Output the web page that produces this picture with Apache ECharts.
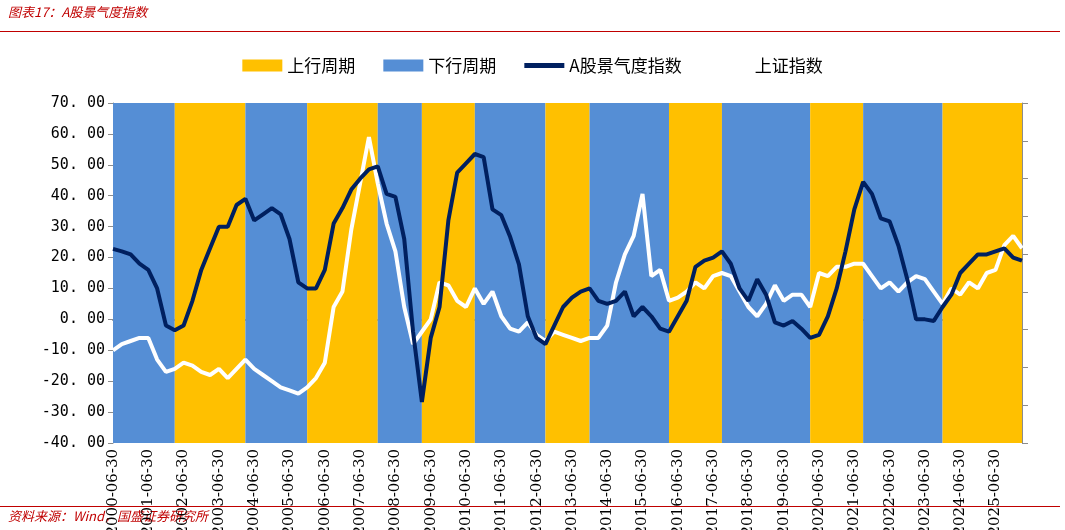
<!DOCTYPE html>
<html><head><meta charset="utf-8">
<script src="https://cdn.jsdelivr.net/npm/echarts@6/dist/echarts.min.js"></script>
<style>html,body{margin:0;background:#fff}#chart{width:1065px;height:530px}</style>
</head><body><div id="chart"></div>
<script>
// quarterly dates from 2000-06-30 to 2026-03-31
const dates = [];
for (let y = 2000; y <= 2026; y++) {
  for (const md of ["03-31", "06-30", "09-30", "12-31"]) {
    const d = `${y}-${md}`;
    if (d >= "2000-06-30" && d <= "2026-03-31") dates.push(d);
  }
}

const sentiment = [
  22.8, 22, 21, 18, 16, 10, -2, -3.5, -2, 6, 16, 23, 30, 30, 37, 39, 32, 34, 36, 34,
  26, 12, 10, 10, 16, 31, 36, 42, 45.5, 48.5, 49.5, 40.6, 39.6, 26, -4, -26.7, -6, 4, 32, 47.5,
  50.5, 53.5, 52.5, 35.6, 33.7, 26.7, 17.8, 1, -6, -8, -2, 4, 7, 9, 10, 6, 5, 6, 9, 1,
  4, 1, -3, -4, 1, 6, 17, 19, 20, 22, 18, 10, 6, 13, 8, -1, -2, -0.5, -3, -6,
  -5, 1, 10, 22, 35.6, 44.5, 40.6, 32.7, 31.7, 23.8, 13, 0, 0, -0.5, 4, 8, 15, 18, 21, 21,
  22, 23, 20, 19
];

const shIndex = [
  -10, -8, -7, -6, -6, -13, -17, -16, -14, -15, -17, -18, -16, -19, -16, -13, -16, -18, -20, -22,
  -23, -24, -22, -19, -14, 4, 9, 29, 44, 59, 44, 31, 22, 4, -8, -4, 0, 12, 11, 6,
  4, 10, 5, 9, 1, -3, -4, -1, -5, -7, -4, -5, -6, -7, -6, -6, -2, 12, 21, 27,
  40.6, 14, 16, 6, 7, 9, 12, 10, 14, 15, 14, 9, 4, 1, 5, 11, 6, 8, 8, 4,
  15, 14, 17, 17, 18, 18, 14, 10, 12, 9, 12, 14, 13, 9, 5, 10, 8, 12, 10, 15,
  16, 24, 27, 23
];

// cycle bands as [startIndex, endIndex, type]
const bands = [
  [0, 7, "down"], [7, 15, "up"], [15, 22, "down"], [22, 30, "up"], [30, 35, "down"],
  [35, 41, "up"], [41, 49, "down"], [49, 54, "up"], [54, 63, "down"], [63, 69, "up"],
  [69, 79, "down"], [79, 85, "up"], [85, 94, "down"], [94, 103, "up"]
];

const UP = "#FFC000";
const DOWN = "#558ED5";
const NAVY = "#002060";
const FONT = "Noto Sans CJK SC";
const LINE_ICON = "path://M0,0 L40,0 L40,5 L0,5 Z";

const chart = echarts.init(document.getElementById("chart"));
chart.setOption({
  animation: false,
  textStyle: { fontFamily: FONT },
  grid: { left: 113, right: 43, top: 103, bottom: 87, outerBoundsMode: "none", containLabel: false },
  legend: {
    top: 52, left: "center", itemGap: 28, itemWidth: 40, itemHeight: 12,
    textStyle: { fontSize: 17, color: "#000", fontFamily: FONT },
    data: [
      { name: "上行周期", icon: "rect" },
      { name: "下行周期", icon: "rect" },
      { name: "A股景气度指数", icon: LINE_ICON },
      { name: "上证指数", icon: LINE_ICON }
    ]
  },
  xAxis: {
    type: "category", data: dates, boundaryGap: false,
    axisLine: { onZero: true, onZeroAxisIndex: 0, lineStyle: { color: "#8c8c8c", width: 2 } },
    axisTick: { interval: 3, lineStyle: { color: "#8c8c8c" } },
    axisLabel: { interval: 3, rotate: 90, fontSize: 15, color: "#000", fontFamily: "DejaVu Serif", margin: 6 },
    splitLine: { show: false }
  },
  yAxis: [
    {
      type: "value", min: -40, max: 70, interval: 10,
      axisLine: { show: true, lineStyle: { color: "#8c8c8c" } },
      axisTick: { show: true, lineStyle: { color: "#8c8c8c" } },
      axisLabel: { formatter: (v) => v.toFixed(2).replace(".", ". "), fontSize: 15, color: "#000", fontFamily: "DejaVu Sans Mono" },
      splitLine: { show: false }
    },
    {
      type: "value", min: 0, max: 9, interval: 1, position: "right",
      axisLine: { show: true, lineStyle: { color: "#8c8c8c" } },
      axisTick: { show: true, length: 6, lineStyle: { color: "#8c8c8c" } },
      axisLabel: { show: false }, splitLine: { show: false }
    }
  ],
  series: [
    { name: "上行周期", type: "bar", data: [], itemStyle: { color: UP } },
    { name: "下行周期", type: "bar", data: [], itemStyle: { color: DOWN } },
    {
      name: "上证指数", type: "line", data: shIndex, symbol: "none", z: 3,
      lineStyle: { color: "#fff", width: 4 }, itemStyle: { color: "#fff" },
      markArea: {
        silent: true,
        data: bands.map(([a, b, t]) => [
          { xAxis: dates[a], itemStyle: { color: t === "up" ? UP : DOWN, opacity: 1 } },
          { xAxis: dates[b] }
        ])
      }
    },
    {
      name: "A股景气度指数", type: "line", data: sentiment, symbol: "none", z: 4,
      lineStyle: { color: NAVY, width: 4 }, itemStyle: { color: NAVY }
    }
  ],
  graphic: [
    { type: "text", left: 8, top: 6, style: { text: "图表17：A股景气度指数", fill: "#C00000", font: "italic 13px 'Noto Sans CJK SC'" } },
    { type: "rect", left: 0, top: 31, shape: { width: 1060, height: 1 }, style: { fill: "#C00000" } },
    { type: "rect", left: 0, top: 506, shape: { width: 1060, height: 1 }, style: { fill: "#C00000" } },
    { type: "text", left: 8, top: 510, style: { text: "资料来源：Wind，国盛证券研究所", fill: "#C00000", font: "italic 13px 'Noto Sans CJK SC'" } }
  ]
});
</script></body></html>
